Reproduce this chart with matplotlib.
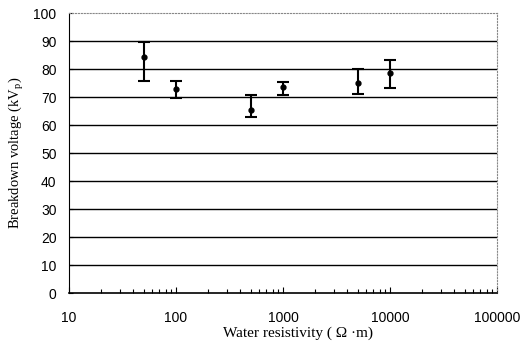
import matplotlib
matplotlib.use("Agg")
import matplotlib.pyplot as plt
import numpy as np
from matplotlib.ticker import LogLocator, NullFormatter

resistivity = [50, 100, 500, 1000, 5000, 10000]
voltage = [84.4, 73.0, 65.4, 73.5, 74.9, 78.6]
err_upper = [89.5, 75.8, 70.7, 75.5, 80.0, 83.1]
err_lower = [75.7, 69.5, 63.0, 70.8, 71.2, 73.1]
x_ticks = [10, 100, 1000, 10000, 100000]
x_ticklabels = ["10", "100", "1000", "10000", "100000"]
y_ticks = list(range(0, 101, 10))

fig = plt.figure(figsize=(5.29, 3.44), dpi=100)
ax = fig.add_axes([0.1304, 0.148, 0.809, 0.814])
ax.set_xscale("log")
ax.set_xlim(10, 100000)
ax.set_ylim(0, 100)

for y in y_ticks[1:-1]:
    ax.axhline(y, color="black", lw=1.0, zorder=1)

yerr = [np.array(voltage) - np.array(err_lower), np.array(err_upper) - np.array(voltage)]
ax.errorbar(resistivity, voltage, yerr=yerr, fmt="o", color="black", ms=3.5,
            capsize=4, capthick=1.5, elinewidth=1.5, zorder=3)

ax.set_xticks(x_ticks)
ax.set_xticklabels(x_ticklabels, fontfamily="Liberation Sans", fontsize=10)
ax.xaxis.set_minor_locator(LogLocator(base=10, subs=np.arange(2, 10)))
ax.xaxis.set_minor_formatter(NullFormatter())
ax.tick_params(axis="x", which="minor", direction="in", length=3, width=0.8)
ax.tick_params(axis="x", which="major", direction="in", length=4, width=0.8, pad=13)
ax.set_yticks(y_ticks)
ax.set_yticklabels([str(v) for v in y_ticks], fontfamily="Liberation Sans", fontsize=10)
ax.tick_params(axis="y", which="major", direction="in", length=3, width=0.8, pad=9)

for s in ["top", "right"]:
    ax.spines[s].set_linestyle(":")
    ax.spines[s].set_color("#888888")
    ax.spines[s].set_linewidth(0.8)
ax.spines["left"].set_linewidth(0.8)
ax.spines["bottom"].set_linewidth(1.2)

ax.set_xlabel("Water resistivity ( \u03a9 \u00b7m)", fontfamily="Liberation Serif", fontsize=11, labelpad=0)
ax.xaxis.set_label_coords(0.535, -0.118, transform=ax.transAxes)
ax.xaxis.label.set_verticalalignment("top")
ax.set_ylabel("Breakdown voltage (kV$_\\mathregular{p}$)", fontfamily="Liberation Serif", fontsize=10.5, labelpad=5)

fig.savefig("out.png", dpi=100)
